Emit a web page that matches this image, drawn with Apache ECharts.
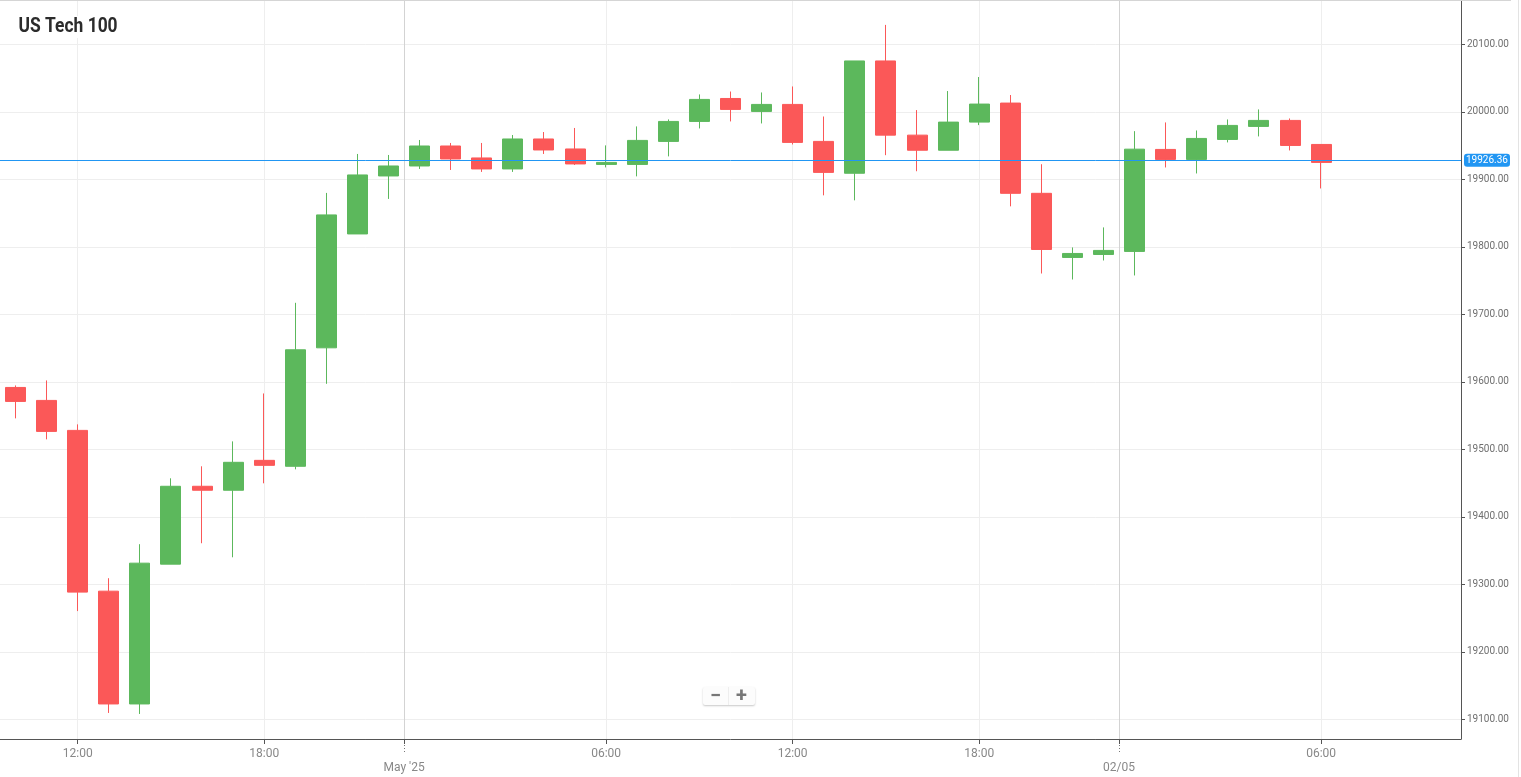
<!DOCTYPE html>
<html>
<head>
<meta charset="utf-8">
<title>US Tech 100</title>
<script src="https://cdn.jsdelivr.net/npm/echarts@6/dist/echarts.min.js"></script>
<style>
  html, body { margin: 0; padding: 0; background: #fff; }
  #main { width: 1521px; height: 777px; }
</style>
</head>
<body>
<div id="main"></div>
<script>
// hourly candles, 23:00 has no bar (session break)
var categories = [
  '10:00', '11:00', '12:00', '13:00', '14:00', '15:00', '16:00', '17:00', '18:00', '19:00', '20:00', '21:00', '22:00',
  '00:00', '01:00', '02:00', '03:00', '04:00', '05:00', '06:00', '07:00', '08:00', '09:00', '10:00', '11:00', '12:00',
  '13:00', '14:00', '15:00', '16:00', '17:00', '18:00', '19:00', '20:00', '21:00', '22:00',
  '00:00', '01:00', '02:00', '03:00', '04:00', '05:00', '06:00', '07:00', '08:00', '09:00', '10:00'
];
var opens = [
  19591.6, 19572.4, 19528.0, 19289.8, 19122.7, 19329.8, 19445.2, 19439.3, 19483.6, 19474.8, 19650.3, 19819.0, 19904.9,
  19919.7, 19949.3, 19931.6, 19915.3, 19959.7, 19944.9, 19922.0, 19922.0, 19956.1, 19985.7, 20019.7, 20000.5, 20010.9,
  19956.1, 19908.9, 20075.3, 19965.4, 19943.0, 19984.7, 20012.9, 19879.2, 19784.2, 19788.6,
  19793.1, 19944.2, 19929.4, 19959.0, 19978.3, 19987.2, 19951.6
];
var closes = [
  19570.9, 19526.5, 19288.4, 19122.7, 19331.3, 19445.2, 19439.3, 19480.7, 19476.2, 19647.4, 19847.2, 19906.4, 19919.7,
  19949.3, 19930.1, 19915.3, 19959.7, 19943.4, 19922.7, 19925.0, 19957.6, 19985.7, 20018.3, 20003.5, 20010.9, 19954.6,
  19910.2, 20075.3, 19965.4, 19943.0, 19984.7, 20011.4, 19879.2, 19796.0, 19790.1, 19794.6,
  19944.6, 19929.4, 19960.5, 19979.8, 19987.2, 19950.1, 19925.0
];
var lows = [
  19545.8, 19514.7, 19260.3, 19109.4, 19107.9, 19329.8, 19360.8, 19340.0, 19449.6, 19470.3, 19597.0, 19819.0, 19870.9,
  19915.3, 19913.8, 19910.9, 19910.9, 19937.5, 19921.2, 19917.6, 19904.3, 19933.9, 19975.3, 19985.7, 19982.7, 19951.6,
  19876.2, 19868.8, 19935.7, 19911.9, 19943.0, 19980.2, 19859.9, 19760.4, 19751.5, 19779.7,
  19757.5, 19917.5, 19908.6, 19954.6, 19963.5, 19942.7, 19886.4
];
var highs = [
  19594.6, 19602.0, 19536.9, 19309.0, 19359.4, 19457.0, 19474.8, 19511.7, 19582.7, 19717.0, 19879.8, 19937.5, 19936.0,
  19958.2, 19953.8, 19953.8, 19965.6, 19970.0, 19976.0, 19950.2, 19978.3, 19988.7, 20025.7, 20030.0, 20028.6, 20037.5,
  19993.0, 20075.3, 20128.7, 20002.5, 20030.7, 20051.5, 20024.8, 19922.3, 19799.0, 19828.7,
  19971.3, 19984.2, 19972.3, 19988.6, 20003.5, 19990.1, 19951.6
];
var priceTicks = [19100, 19200, 19300, 19400, 19500, 19600, 19700, 19800, 19900, 20000, 20100];
var hourLabels = ['12:00', '18:00', '06:00'];
var dayLabels = ["May '25", '02/05'];
var priceMin = 19070.8;
var priceMax = 20164.1;
var lastPriceLine = 19928;
var lastPriceText = '19926.36';

var green = '#5cb85c';
var red = '#fb5858';
var blue = '#2196f3';

// the day lines sit on the edge between bars, at the first bar of each day
var dayStarts = [];
categories.forEach(function (c, i) {
  if (c === '00:00') dayStarts.push(i);
});

var candles = opens.map(function (o, i) {
  return [o, closes[i], lows[i], highs[i]];
});

function isLabeled(index, value) {
  return hourLabels.indexOf(value) >= 0;
}

var myChart = echarts.init(document.getElementById('main'), null, { renderer: 'canvas' });

myChart.setOption({
  animation: false,
  backgroundColor: '#fff',
  textStyle: { fontFamily: 'Roboto' },
  grid: { left: 0, top: 1, width: 1461, height: 738, containLabel: false, outerBoundsMode: 'none' },
  xAxis: [
    {
      type: 'category',
      position: 'bottom',
      data: categories,
      boundaryGap: true,
      axisLine: { onZero: false, lineStyle: { color: '#555', width: 1 } },
      axisTick: { show: true, alignWithLabel: true, interval: isLabeled, length: 5, lineStyle: { color: '#555' } },
      axisLabel: { interval: isLabeled, color: '#888', fontSize: 12, margin: 9, fontFamily: 'Roboto', hideOverlap: false },
      splitLine: { show: true, alignWithLabel: true, interval: isLabeled, lineStyle: { color: '#eeeeee', width: 1 } }
    },
    {
      // day separators, counted in bars from the left edge
      type: 'value',
      position: 'bottom',
      min: 0,
      max: categories.length,
      axisLine: { show: false, onZero: false },
      axisTick: { show: true, customValues: dayStarts, length: 5, lineStyle: { color: '#555' } },
      axisLabel: { show: false },
      splitLine: { show: true, lineStyle: { color: '#d3d3d3', width: 1 } }
    },
    {
      // dotted connector and the day name below it
      type: 'value',
      position: 'bottom',
      min: 0,
      max: categories.length,
      offset: 6,
      axisLine: { show: false, onZero: false },
      axisTick: { show: true, customValues: dayStarts, length: 7, lineStyle: { color: '#777', type: [1, 2] } },
      axisLabel: {
        show: true,
        customValues: dayStarts,
        color: '#888',
        fontSize: 12,
        margin: 17,
        fontFamily: 'Roboto',
        formatter: function (v) { return dayLabels[dayStarts.indexOf(v)]; }
      },
      splitLine: { show: false }
    }
  ],
  yAxis: {
    type: 'value',
    position: 'right',
    min: priceMin,
    max: priceMax,
    axisLine: { show: true, onZero: false, lineStyle: { color: '#555', width: 1 } },
    axisTick: { show: true, customValues: priceTicks, length: 4, lineStyle: { color: '#555' } },
    axisLabel: {
      customValues: priceTicks,
      color: '#6f6f6f',
      fontSize: 10,
      margin: 6,
      fontFamily: 'Roboto',
      formatter: function (v) { return v.toFixed(2); }
    },
    splitLine: { show: true, lineStyle: { color: '#eeeeee', width: 1 } }
  },
  series: [{
    type: 'candlestick',
    xAxisIndex: 0,
    data: candles,
    barWidth: 20.5,
    itemStyle: {
      color: green,
      color0: red,
      borderColor: green,
      borderColor0: red,
      borderWidth: 1
    },
    markLine: {
      silent: true,
      symbol: 'none',
      animation: false,
      lineStyle: { color: blue, width: 1, type: 'solid' },
      label: {
        position: 'end',
        distance: 3,
        formatter: lastPriceText,
        color: '#fff',
        fontSize: 10,
        fontFamily: 'Roboto',
        backgroundColor: blue,
        borderRadius: 3,
        padding: [2, 2, 1, 2]
      },
      data: [{ yAxis: lastPriceLine, lineStyle: { color: blue, width: 1, type: 'solid', opacity: 1 } }]
    }
  }],
  graphic: [
    {
      type: 'text', left: 16, top: 16, z: 10,
      scaleX: 0.87,
      style: {
        text: 'US Tech 100', fill: '#2b2b2b', font: 'bold 20px Roboto',
        backgroundColor: '#fff', padding: [1, 3]
      }
    },
    { type: 'rect', shape: { x: 0, y: 0, width: 1511, height: 1 }, style: { fill: '#d5d5d5' }, z: 9 },
    { type: 'rect', shape: { x: 1518, y: 0, width: 1, height: 777 }, style: { fill: '#e3e3e3' }, z: 9 },
    // zoom buttons
    {
      type: 'rect', shape: { x: 703, y: 687, width: 52, height: 18, r: 2 }, z: 10,
      style: { fill: '#fcfcfc', shadowBlur: 2, shadowColor: 'rgba(0,0,0,0.22)', shadowOffsetY: 1 }
    },
    { type: 'rect', shape: { x: 728, y: 687, width: 1, height: 18 }, style: { fill: '#eeeeee' }, z: 11 },
    { type: 'text', x: 715.5, y: 697, z: 11, style: { text: '\u2212', fill: '#777', font: 'bold 20px Roboto', align: 'center', verticalAlign: 'middle' } },
    { type: 'text', x: 741.5, y: 697, z: 11, style: { text: '+', fill: '#777', font: 'bold 20px Roboto', align: 'center', verticalAlign: 'middle' } }
  ]
});
</script>
</body>
</html>
